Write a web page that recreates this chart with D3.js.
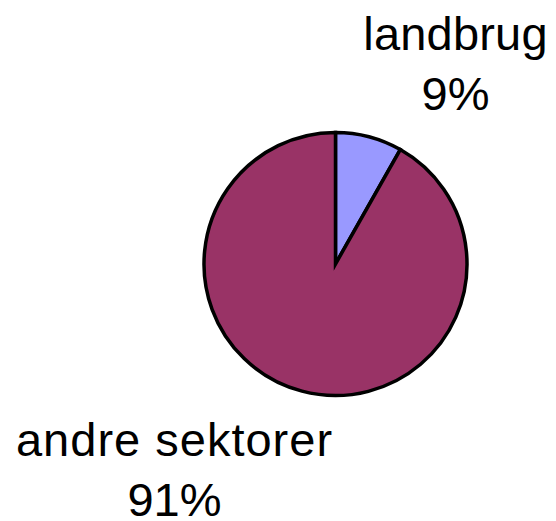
<!DOCTYPE html>
<html>
<head>
<meta charset="utf-8">
<script src="https://cdn.jsdelivr.net/npm/d3@7"></script>
<style>
  body { margin: 0; background: #fff; }
  text { font-family: "Liberation Sans", Arial, sans-serif; }
</style>
</head>
<body>
<svg id="drawing_region"></svg>
<script>
// data
const categories = ['landbrug', 'andre sektorer'];
const shares = [8.2, 91.8];          // slice sizes as drawn
const pctLabels = ['9%', '91%'];     // printed labels
const colors = ['#9999ff', '#993366'];

const config = {
    parent: '#drawing_region',
    width: 556,
    height: 521,
    cx: 335.5,
    cy: 264,
    radius: 131.5,
    fontSize: 47,
    lineGap: 60,
    // label anchor (centre of first line baseline), relative to pie centre
    labelPos: [ {dx: 120, dy: -214}, {dx: -161, dy: 192} ],
    letterSpacing: [0.2, 1]
};

const data = categories.map((c, i) => ({ label: c, value: shares[i], pct: pctLabels[i], color: colors[i] }));

const svg = d3.select(config.parent)
    .attr('width', config.width)
    .attr('height', config.height);

const g = svg.append('g')
    .attr('transform', `translate(${config.cx}, ${config.cy})`);

const pie = d3.pie()
    .sort(null)
    .value(d => d.value);

const arc = d3.arc()
    .innerRadius(0)
    .outerRadius(config.radius);

g.selectAll('path')
    .data(pie(data))
    .join('path')
    .attr('d', arc)
    .attr('fill', d => d.data.color)
    .attr('stroke', '#000')
    .attr('stroke-width', 3.5)
    .attr('stroke-linejoin', 'miter');

const labels = g.selectAll('text.lbl')
    .data(pie(data))
    .join('text')
    .attr('class', 'lbl')
    .attr('text-anchor', 'middle')
    .attr('font-size', config.fontSize)
    .attr('fill', '#000')
    .attr('transform', (d, i) => `translate(${config.labelPos[i].dx}, ${config.labelPos[i].dy})`);

labels.append('tspan')
    .attr('x', 0)
    .attr('y', 0)
    .attr('letter-spacing', (d, i) => config.letterSpacing[i])
    .text(d => d.data.label);

labels.append('tspan')
    .attr('x', 0)
    .attr('y', config.lineGap)
    .text(d => d.data.pct);
</script>
</body>
</html>
